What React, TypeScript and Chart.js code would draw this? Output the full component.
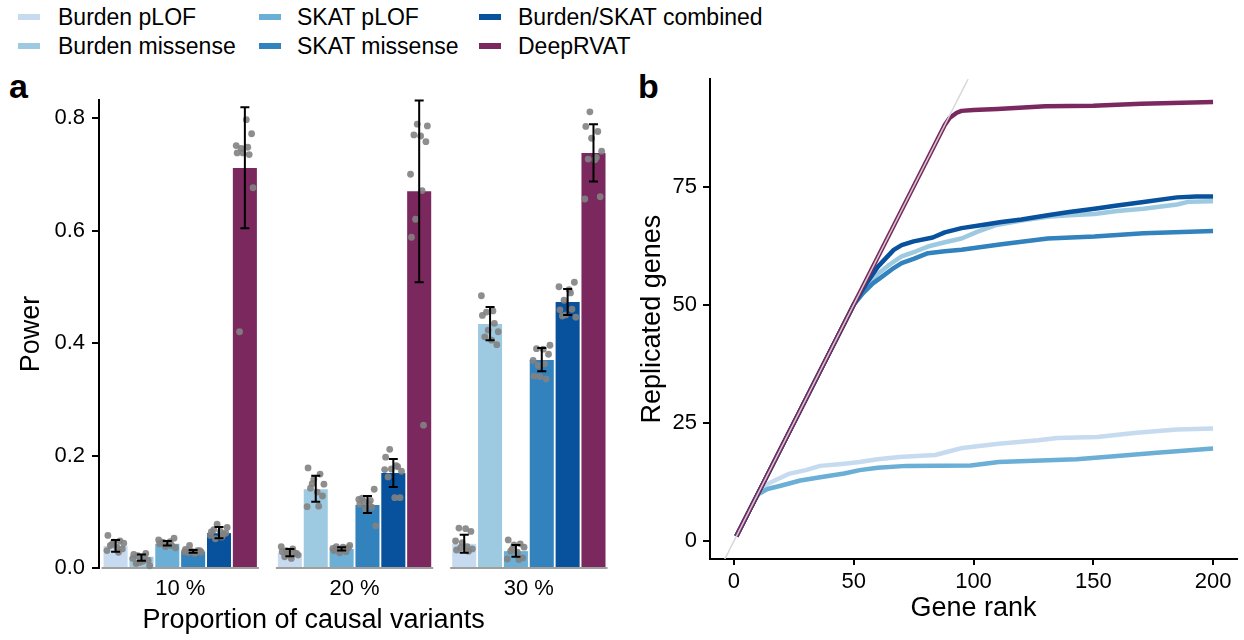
import React, { useEffect, useRef } from 'react';
import { Chart, registerables } from 'chart.js';
Chart.register(...registerables);

const FONT = '"Liberation Sans", Arial, Helvetica, sans-serif';

// ---------- shared series ----------
const methods = ['Burden pLOF', 'Burden missense', 'SKAT pLOF', 'SKAT missense', 'Burden/SKAT combined', 'DeepRVAT'];
const colors = ['#c6dbef', '#9ecae1', '#6baed6', '#3182bd', '#08519c', '#7a285e'];

// ---------- panel a ----------
const groups = ['10 %', '20 %', '30 %'];
const powerTicks = [0, 0.2, 0.4, 0.6, 0.8];

const burdenPlofMean = [0.039, 0.027, 0.043];
const burdenMissenseMean = [0.020, 0.140, 0.434];
const skatPlofMean = [0.043, 0.034, 0.030];
const skatMissenseMean = [0.029, 0.112, 0.370];
const combinedMean = [0.062, 0.169, 0.473];
const deeprvatMean = [0.711, 0.670, 0.738];

const burdenPlofErr = [[0.029, 0.050], [0.021, 0.034], [0.027, 0.059]];
const burdenMissenseErr = [[0.013, 0.024], [0.118, 0.164], [0.405, 0.464]];
const skatPlofErr = [[0.040, 0.048], [0.031, 0.037], [0.020, 0.041]];
const skatMissenseErr = [[0.027, 0.032], [0.098, 0.128], [0.350, 0.391]];
const combinedErr = [[0.053, 0.073], [0.144, 0.194], [0.450, 0.496]];
const deeprvatErr = [[0.604, 0.819], [0.508, 0.831], [0.687, 0.789]];

const burdenPlofPts = [
  [0.058, 0.048, 0.046, 0.044, 0.040, 0.037, 0.034, 0.031, 0.028, 0.042],
  [0.038, 0.034, 0.031, 0.029, 0.027, 0.025, 0.023, 0.020, 0.017, 0.026],
  [0.071, 0.070, 0.065, 0.048, 0.038, 0.036, 0.032, 0.030, 0.045, 0.034],
];
const burdenMissensePts = [
  [0.004, 0.008, 0.012, 0.014, 0.017, 0.020, 0.022, 0.024, 0.026, 0.010],
  [0.178, 0.167, 0.158, 0.149, 0.142, 0.135, 0.128, 0.109, 0.110, 0.150],
  [0.484, 0.457, 0.455, 0.449, 0.435, 0.423, 0.420, 0.411, 0.405, 0.397],
];
const skatPlofPts = [
  [0.053, 0.050, 0.047, 0.045, 0.043, 0.040, 0.038, 0.036, 0.046, 0.041],
  [0.040, 0.038, 0.037, 0.036, 0.035, 0.034, 0.033, 0.031, 0.029, 0.027],
  [0.050, 0.043, 0.041, 0.037, 0.030, 0.028, 0.018, 0.016, 0.015, 0.034],
];
const skatMissensePts = [
  [0.040, 0.033, 0.031, 0.030, 0.028, 0.027, 0.026, 0.031, 0.029, 0.027],
  [0.140, 0.122, 0.120, 0.118, 0.113, 0.108, 0.105, 0.075, 0.124, 0.114],
  [0.396, 0.390, 0.389, 0.380, 0.369, 0.363, 0.360, 0.341, 0.336, 0.340],
];
const combinedPts = [
  [0.078, 0.072, 0.068, 0.065, 0.062, 0.058, 0.055, 0.052, 0.064, 0.060],
  [0.211, 0.197, 0.180, 0.176, 0.172, 0.162, 0.125, 0.125, 0.175, 0.182],
  [0.508, 0.500, 0.489, 0.476, 0.459, 0.460, 0.450, 0.446, 0.448, 0.495],
];
const deeprvatPts = [
  [0.797, 0.772, 0.751, 0.748, 0.746, 0.738, 0.735, 0.738, 0.676, 0.420],
  [0.789, 0.786, 0.770, 0.768, 0.758, 0.700, 0.671, 0.620, 0.588, 0.254],
  [0.811, 0.785, 0.776, 0.764, 0.741, 0.727, 0.726, 0.660, 0.656, 0.730],
];

const barMeans = [burdenPlofMean, burdenMissenseMean, skatPlofMean, skatMissenseMean, combinedMean, deeprvatMean];
const barErrs = [burdenPlofErr, burdenMissenseErr, skatPlofErr, skatMissenseErr, combinedErr, deeprvatErr];
const barPts = [burdenPlofPts, burdenMissensePts, skatPlofPts, skatMissensePts, combinedPts, deeprvatPts];

// fixed horizontal jitter pattern (fraction of bar width)
const jitter = [-0.32, 0.18, -0.08, 0.34, -0.22, 0.06, 0.28, -0.36, 0.12, -0.15];

// ---------- panel b ----------
const rankTicks = [0, 50, 100, 150, 200];
const geneTicks = [0, 25, 50, 75];
const diagonalX = [-10, 210];
const diagonalY = [-10, 210];

const burdenPlofX = [1, 10, 13, 17, 22.8, 30, 36, 45, 52.5, 60, 69, 84, 90, 95.4, 110.5, 127, 135, 151.7, 168, 185, 200];
const burdenPlofY = [1, 10, 11.8, 12.8, 14.2, 15.0, 15.9, 16.3, 16.7, 17.3, 17.8, 18.2, 19.0, 19.7, 20.6, 21.3, 21.8, 22.0, 22.9, 23.6, 23.8];
const skatPlofX = [1, 9, 10.4, 14, 19.5, 27.7, 36, 46, 52.5, 60, 72, 98.8, 110.5, 143, 160, 176.5, 200];
const skatPlofY = [1, 9, 10, 11, 11.7, 12.8, 13.5, 14.3, 15.0, 15.5, 15.9, 16.0, 16.7, 17.3, 18.0, 18.7, 19.6];
const burdenMissenseX = [1, 52, 56, 60, 65, 70, 76, 81, 88, 95, 102, 109, 120, 131, 140, 150.5, 160, 171, 185, 190, 200];
const burdenMissenseY = [1, 52, 54.5, 56.5, 58.5, 60.2, 61.3, 62.3, 63.2, 64, 65.5, 66.8, 67.8, 68.6, 68.9, 69.2, 69.8, 70.3, 71.2, 71.8, 71.9];
const skatMissenseX = [1, 50, 54, 58, 62, 66, 70, 75, 81, 88, 95, 111.7, 131, 150.5, 171, 200];
const skatMissenseY = [1, 50, 52.5, 54.5, 56, 57.5, 58.8, 59.7, 60.9, 61.3, 61.6, 62.8, 64, 64.4, 65.1, 65.6];
const combinedX = [1, 50, 55, 60, 66.7, 70, 75, 83, 88, 95, 103, 111.7, 120, 131, 140, 150.5, 160, 171, 185, 193, 200];
const combinedY = [1, 50, 54.3, 58, 61.6, 62.6, 63.4, 64.2, 65.3, 66.2, 66.8, 67.5, 68.0, 68.9, 69.6, 70.3, 71.0, 71.7, 72.7, 72.9, 72.9];
const deeprvatX = [1, 88, 90, 93, 95, 100, 110, 130, 150, 160, 170, 200];
const deeprvatY = [1, 88, 89.5, 90.6, 91, 91.2, 91.4, 92, 92.1, 92.3, 92.5, 92.9];

const lineXs = [burdenPlofX, burdenMissenseX, skatPlofX, skatMissenseX, combinedX, deeprvatX];
const lineYs = [burdenPlofY, burdenMissenseY, skatPlofY, skatMissenseY, combinedY, deeprvatY];

const zip = (xs: number[], ys: number[]) => xs.map((x, i) => ({ x, y: ys[i] }));

const tickFont = { family: FONT, size: 22 };
const titleFont = { family: FONT, size: 27 };

const barExtras = {
  id: 'barExtras',
  afterDatasetsDraw(chart: any) {
    const ctx = chart.ctx;
    const ys = chart.scales.y;
    const area = chart.chartArea;
    const n = chart.data.datasets.length;
    ctx.save();
    for (let g = 0; g < groups.length; g++) {
      const first = chart.getDatasetMeta(0).data[g];
      const last = chart.getDatasetMeta(n - 1).data[g];
      ctx.beginPath();
      ctx.moveTo(first.x - first.width / 2 - 2, area.bottom);
      ctx.lineTo(last.x + last.width / 2 + 2, area.bottom);
      ctx.strokeStyle = '#7f7f7f';
      ctx.lineWidth = 1.5;
      ctx.stroke();
    }
    for (let d = 0; d < n; d++) {
      const meta = chart.getDatasetMeta(d);
      meta.data.forEach((bar: any, g: number) => {
        const pts = barPts[d][g];
        pts.forEach((v: number, k: number) => {
          const jx = bar.x + jitter[(k + d * 3 + g * 7) % jitter.length] * bar.width;
          ctx.beginPath();
          ctx.arc(jx, ys.getPixelForValue(v), 3.4, 0, Math.PI * 2);
          ctx.fillStyle = 'rgba(130,130,130,0.9)';
          ctx.fill();
        });
        const [lo, hi] = barErrs[d][g];
        const yl = ys.getPixelForValue(lo);
        const yh = ys.getPixelForValue(hi);
        ctx.beginPath();
        ctx.moveTo(bar.x, yl);
        ctx.lineTo(bar.x, yh);
        ctx.moveTo(bar.x - 4.5, yl);
        ctx.lineTo(bar.x + 4.5, yl);
        ctx.moveTo(bar.x - 4.5, yh);
        ctx.lineTo(bar.x + 4.5, yh);
        ctx.strokeStyle = '#000';
        ctx.lineWidth = 2;
        ctx.stroke();
      });
    }
    ctx.font = `27px ${FONT}`;
    ctx.fillStyle = '#000';
    ctx.textAlign = 'center';
    ctx.textBaseline = 'middle';
    ctx.fillText('Proportion of causal variants', area.left + area.width * 0.415, chart.height - 19);
    ctx.restore();
  },
};

export default function App() {
  const refA = useRef<HTMLCanvasElement>(null);
  const refB = useRef<HTMLCanvasElement>(null);

  useEffect(() => {
    const chartA = new Chart(refA.current as HTMLCanvasElement, {
      type: 'bar',
      data: {
        datasets: methods.map((m, i) => ({
          label: m,
          data: zip([0, 1, 2], barMeans[i]),
          backgroundColor: colors[i],
          borderWidth: 0,
          barPercentage: 0.93,
          categoryPercentage: 0.89,
        })),
      },
      options: {
        responsive: false,
        animation: false,
        events: [],
        layout: { padding: { top: 40, right: 14, left: 0, bottom: 0 } },
        plugins: { legend: { display: false }, tooltip: { enabled: false } },
        scales: {
          x: {
            type: 'linear',
            offset: false,
            min: -0.466,
            max: 2.5,
            afterBuildTicks: (s: any) => { s.ticks = [0, 1, 2].map((v) => ({ value: v })); },
            afterFit: (s: any) => { s.height = 72; },
            grid: { display: false, drawTicks: false, offset: false },
            border: { display: false },
            ticks: { font: tickFont, color: '#000', padding: 8, maxRotation: 0, callback: (v: any) => groups[v] },
          },
          y: {
            min: 0,
            max: 0.832,
            afterBuildTicks: (s: any) => { s.ticks = powerTicks.map((v) => ({ value: v })); },
            afterFit: (s: any) => { s.width = 99; },
            grid: { drawOnChartArea: false, drawTicks: true, tickLength: 7, color: '#000', lineWidth: 2 },
            border: { display: true, color: '#000', width: 2 },
            ticks: { font: tickFont, color: '#000', padding: 7, callback: (v: any) => Number(v).toFixed(1) },
            title: { display: true, text: 'Power', font: titleFont, color: '#000', padding: { top: 15, bottom: 0 } },
          },
        },
      } as any,
      plugins: [barExtras],
    } as any);

    const lineSets: any[] = methods.map((m, i) => ({
      label: m,
      data: zip(lineXs[i], lineYs[i]),
      borderColor: colors[i],
      backgroundColor: colors[i],
      borderWidth: 4.5,
      pointRadius: 0,
      tension: 0,
      fill: false,
      borderJoinStyle: 'round',
      order: i === 5 ? 1 : 10 - i,
    }));
    lineSets.push({
      label: 'diagonal',
      data: zip(diagonalX, diagonalY),
      borderColor: 'rgba(214,214,214,0.95)',
      borderWidth: 1.5,
      pointRadius: 0,
      fill: false,
      order: 0,
    });

    const chartB = new Chart(refB.current as HTMLCanvasElement, {
      type: 'line',
      data: { datasets: lineSets },
      options: {
        responsive: false,
        animation: false,
        events: [],
        layout: { padding: { top: 14, right: 7, left: 0, bottom: 0 } },
        plugins: { legend: { display: false }, tooltip: { enabled: false } },
        scales: {
          x: {
            type: 'linear',
            min: -10,
            max: 210,
            afterBuildTicks: (s: any) => { s.ticks = rankTicks.map((v) => ({ value: v })); },
            afterFit: (s: any) => { s.height = 81; },
            grid: { drawOnChartArea: false, drawTicks: true, tickLength: 6, color: '#000', lineWidth: 2 },
            border: { display: true, color: '#000', width: 2 },
            ticks: { font: tickFont, color: '#000', padding: 4, maxRotation: 0 },
            title: { display: true, text: 'Gene rank', font: titleFont, color: '#000', padding: { top: 0, bottom: 15 } },
          },
          y: {
            min: -3.8,
            max: 97.7,
            afterBuildTicks: (s: any) => { s.ticks = geneTicks.map((v) => ({ value: v })); },
            afterFit: (s: any) => { s.width = 80; },
            grid: { drawOnChartArea: false, drawTicks: true, tickLength: 7, color: '#000', lineWidth: 2 },
            border: { display: true, color: '#000', width: 2 },
            ticks: { font: tickFont, color: '#000', padding: 6 },
            title: { display: true, text: 'Replicated genes', font: titleFont, color: '#000', padding: { top: 6, bottom: 0 } },
          },
        },
      } as any,
    } as any);

    return () => {
      chartA.destroy();
      chartB.destroy();
    };
  }, []);

  const legendCols = [
    { marker: 18, text: 58 },
    { marker: 259, text: 297 },
    { marker: 479, text: 518 },
  ];
  const legendRows = [17, 46];

  return (
    <div style={{ position: 'absolute', left: 0, top: 0, width: 1244, height: 640, background: '#fff', fontFamily: FONT, overflow: 'hidden' }}>
      {methods.map((m, i) => {
        const col = legendCols[Math.floor(i / 2)];
        const cy = legendRows[i % 2];
        return (
          <React.Fragment key={m}>
            <div style={{ position: 'absolute', left: col.marker, top: cy - 3, width: 22, height: 6, background: colors[i] }} />
            <div style={{ position: 'absolute', left: col.text, top: cy - 14, fontSize: 23, lineHeight: '28px', whiteSpace: 'nowrap', color: '#000' }}>{m}</div>
          </React.Fragment>
        );
      })}
      <div style={{ position: 'absolute', left: 9, top: 66, fontSize: 34, fontWeight: 'bold', lineHeight: '40px' }}>a</div>
      <div style={{ position: 'absolute', left: 638, top: 66, fontSize: 34, fontWeight: 'bold', lineHeight: '40px' }}>b</div>
      <canvas ref={refA} width={630} height={580} style={{ position: 'absolute', left: 0, top: 60, width: 630, height: 580 }} />
      <canvas ref={refB} width={614} height={580} style={{ position: 'absolute', left: 630, top: 60, width: 614, height: 580 }} />
    </div>
  );
}
